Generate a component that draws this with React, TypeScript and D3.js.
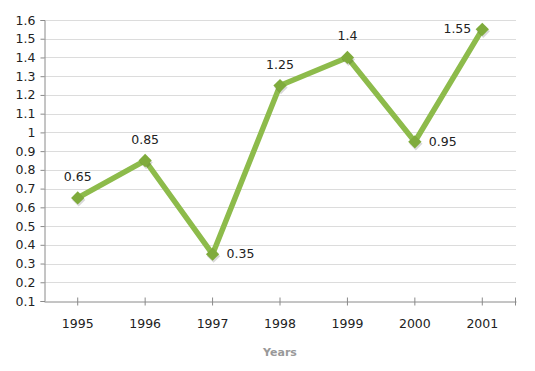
import React, { useEffect, useRef } from 'react';
import * as d3 from 'd3';

const years = ['1995', '1996', '1997', '1998', '1999', '2000', '2001'];
const values = [0.65, 0.85, 0.35, 1.25, 1.4, 0.95, 1.55];
// where each value label sits relative to its point
const labelPos = ['top', 'top', 'right', 'top', 'top', 'right', 'left'];
const yTicks = [0.1, 0.2, 0.3, 0.4, 0.5, 0.6, 0.7, 0.8, 0.9, 1, 1.1, 1.2, 1.3, 1.4, 1.5, 1.6];

const App = () => {
  const ref = useRef<SVGSVGElement>(null);

  useEffect(() => {
    const svg = d3.select(ref.current);
    svg.selectAll('*').remove();

    const left = 44, right = 516, top = 20, bottom = 301;
    const font = 'Verdana, "DejaVu Sans", sans-serif';

    const x = d3.scaleBand().domain(years).range([left, right]);
    const y = d3.scaleLinear().domain([0.1, 1.6]).range([bottom, top]);
    const cx = (d: string) => (x(d) as number) + x.bandwidth() / 2;

    // gridlines
    svg.append('g')
      .selectAll('line')
      .data(yTicks.slice(1))
      .enter()
      .append('line')
      .attr('x1', left)
      .attr('x2', right)
      .attr('y1', (d) => Math.round(y(d)) + 0.5)
      .attr('y2', (d) => Math.round(y(d)) + 0.5)
      .attr('stroke', '#dcdcdc')
      .attr('stroke-width', 1);

    // y axis
    const yAxis = svg.append('g')
      .attr('transform', `translate(${left + 0.5},0)`)
      .call(d3.axisLeft(y).tickValues(yTicks).tickSize(4).tickFormat((d) => String(+d)));
    yAxis.select('.domain').attr('stroke', '#8a8a8a');
    yAxis.selectAll('.tick line').attr('stroke', '#8a8a8a');
    yAxis.selectAll('text')
      .attr('font-family', font)
      .attr('font-size', 12.5)
      .attr('fill', '#222')
      .attr('x', -9);

    // x axis
    const xAxis = svg.append('g')
      .attr('transform', `translate(0,${bottom + 0.5})`)
      .call(d3.axisBottom(x).tickSize(5).tickSizeOuter(0));
    xAxis.select('.domain').attr('stroke', '#8a8a8a');
    xAxis.selectAll('.tick line').attr('stroke', '#8a8a8a').attr('y1', -4).attr('y2', 4);
    xAxis.selectAll('text')
      .attr('font-family', font)
      .attr('font-size', 12.5)
      .attr('fill', '#222')
      .attr('y', 18);
    xAxis.append('line')
      .attr('x1', right - 0.5).attr('x2', right - 0.5)
      .attr('y1', -4).attr('y2', 4)
      .attr('stroke', '#8a8a8a');

    svg.append('text')
      .attr('x', 280)
      .attr('y', 356)
      .attr('text-anchor', 'middle')
      .attr('font-family', font)
      .attr('font-size', 11)
      .attr('font-weight', 'bold')
      .attr('fill', '#999')
      .text('Years');

    const pts = years.map((yr, i) => ({ yr, v: values[i], pos: labelPos[i] }));

    const line = d3.line<{ yr: string; v: number }>()
      .x((d) => cx(d.yr))
      .y((d) => y(d.v));

    svg.append('path')
      .datum(pts)
      .attr('d', line)
      .attr('fill', 'none')
      .attr('stroke', '#8dbb4b')
      .attr('stroke-width', 5.5)
      .attr('stroke-linejoin', 'miter');

    const sym = d3.symbol().type(d3.symbolSquare).size(88);
    svg.append('g')
      .selectAll('path')
      .data(pts)
      .enter()
      .append('path')
      .attr('d', sym)
      .attr('transform', (d) => `translate(${cx(d.yr) + 1},${y(d.v) + 2}) rotate(45)`)
      .attr('fill', 'rgba(0,0,0,0.15)');
    svg.append('g')
      .selectAll('path')
      .data(pts)
      .enter()
      .append('path')
      .attr('d', sym)
      .attr('transform', (d) => `translate(${cx(d.yr)},${y(d.v)}) rotate(45)`)
      .attr('fill', '#7fab3c');

    svg.append('g')
      .selectAll('text')
      .data(pts)
      .enter()
      .append('text')
      .attr('font-family', font)
      .attr('font-size', 12.5)
      .attr('fill', '#222')
      .attr('text-anchor', (d) => (d.pos === 'top' ? 'middle' : d.pos === 'right' ? 'start' : 'end'))
      .attr('x', (d) => cx(d.yr) + (d.pos === 'top' ? 0 : d.pos === 'right' ? 14 : -11))
      .attr('y', (d) => y(d.v) + (d.pos === 'top' ? -17 : 4))
      .text((d) => String(d.v));
  }, []);

  return (
    <svg
      ref={ref}
      width={535}
      height={371}
      style={{ position: 'absolute', left: 0, top: 0, background: '#fff' }}
    />
  );
};

export default App;
